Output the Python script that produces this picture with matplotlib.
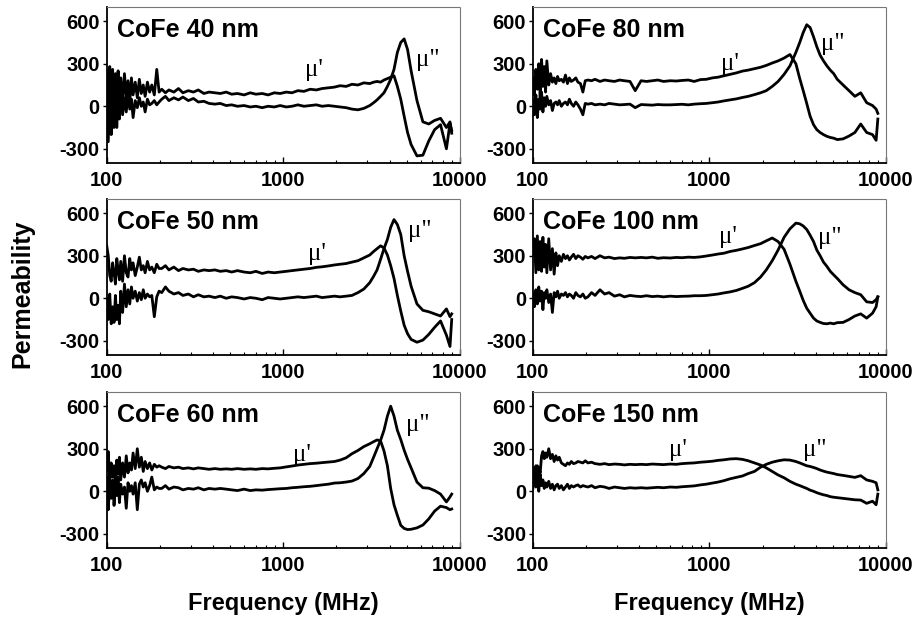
import numpy as np
import matplotlib
matplotlib.use("Agg")
import matplotlib.pyplot as plt

plt.rcParams['font.family'] = ['Liberation Sans', 'DejaVu Sans']

# measurement frequencies (MHz), shared by all panels
freq = [100, 102, 104, 106, 108, 110, 112, 114, 116, 118,
        120, 123, 126, 129, 132, 135, 138, 141, 145, 149,
        153, 157, 161, 165, 170, 175, 180, 186, 192, 198,
        205, 215, 225, 240, 255, 270, 290, 310, 330, 355, 380,
        410, 440, 475, 510, 550, 600, 650, 700, 760, 820, 890, 960,
        1040, 1120, 1210, 1310, 1420, 1540, 1660, 1800, 1950, 2100,
        2270, 2450, 2650, 2860, 3090, 3250, 3400, 3560, 3720, 3890,
        4060, 4240, 4430, 4630, 4840, 5060, 5300, 5720, 6180, 6670,
        7200, 7780, 8400, 8800, 9000]

# CoFe 40 nm
mu1_40 = [250, -50, 280, 0, 260, -150, 230, 20, 250, -80,
          200, 40, 230, 60, 180, 30, 200, 80, 170, 60,
          190, 90, 150, 70, 170, 100, 150, 80, 260, 100,
          120, 95, 115, 100, 125, 95, 110, 100, 115, 90, 100,
          95, 90, 100, 85, 90, 80, 95, 85, 90, 80, 95, 90,
          100, 95, 110, 105, 120, 115, 125, 130, 135, 145,
          140, 155, 150, 165, 160, 170, 175, 170, 185, 195,
          205, 215, 140, 50, -70, -185, -270, -350, -345, -245,
          -165, -130, -300, -120, -170]
mu2_40 = [100, -250, 150, -200, 50, -100, 120, -150, 80, -90,
          110, -60, 60, -40, 90, -20, 50, -80, 40, -10,
          60, 0, 30, -40, 50, 10, 20, 40, 10, 30,
          50, 70, 40, 60, 45, 65, 40, 55, 30, 35, 20,
          15, 20, 5, 10, 0, 5, -5, 0, -10, 0, -5, 5,
          -5, 0, 10, 0, 5, 10, 0, 5, 0, -5,
          -10, -20, -25, -15, 5, 25, 45, 70, 95, 140,
          190, 260, 380, 450, 475, 400, 250, 40, -110, -125,
          -100, -85, -150, -110, -190]

# CoFe 80 nm
mu1_80 = [200, 80, 260, 120, 300, 60, 330, 140, 280, 100,
          320, 150, 230, 170, 200, 160, 210, 180, 190, 170,
          220, 160, 200, 175, 185, 200, 170, 160, 100, 180,
          185, 180, 190, 175, 185, 180, 175, 185, 180, 175, 110,
          180, 175, 180, 185, 175, 180, 178, 182, 185, 175, 188, 190,
          200, 205, 215, 225, 235, 248, 255, 265, 275, 288,
          305, 320, 340, 365, 300, 195, 110, 20, -70, -130,
          -165, -185, -200, -212, -220, -225, -235, -230, -210, -185,
          -125, -185, -200, -240, -90]
mu2_80 = [40, -60, 80, -80, 50, -20, 100, -40, 60, 0,
          70, 10, 40, -30, 20, 30, 10, 40, 0, 20,
          30, 10, 50, 20, 0, 30, 10, -20, -60, 20,
          15, 20, 10, 15, 10, 20, 15, 10, 12, 15, -10,
          12, 10, 8, 12, 10, 10, 12, 14, 10, 15, 18, 20,
          25, 30, 38, 45, 52, 62, 70, 82, 95, 110,
          140, 175, 225, 285, 380, 450, 520, 575, 555, 490,
          420, 360, 320, 285, 255, 230, 190, 150, 110, 70,
          95, 25, 5, -20, -50]

# CoFe 50 nm
mu1_50 = [370, 300, 160, 120, 250, 180, 100, 280, 200, 130,
          260, 120, 300, 180, 150, 280, 200, 250, 160, 220,
          290, 200, 230, 180, 260, 200, 220, 180, 240, 210,
          210, 230, 200, 220, 195, 210, 200, 205, 190, 200, 195,
          200, 190, 195, 185, 195, 185, 180, 190, 175, 185, 180, 185,
          190, 195, 200, 205, 210, 218, 222, 228, 235, 240,
          245, 255, 265, 285, 305, 330, 350, 370, 355, 305,
          230, 140, 20, -90, -190, -250, -290, -310, -295, -255,
          -205, -160, -260, -340, -150]
mu2_50 = [0, -150, 30, -180, -60, -170, 20, -150, -50, -180,
          50, -100, 100, -60, 60, -40, 80, 0, 50, -20,
          40, -10, 60, 0, 30, 10, 20, -130, 10, 50,
          40, 80, 50, 30, 40, 20, 30, 10, 25, 10, 15,
          5, 15, 0, 10, 5, -5, 5, 0, -10, 5, 0, -5,
          0, 5, 10, 5, 10, 15, 5, 10, 15, 10,
          15, 20, 40, 65, 110, 155, 200, 275, 350, 415,
          500, 555, 520, 450, 300, 190, 85, -40, -85, -95,
          -110, -125, -75, -130, -110]

# CoFe 100 nm
mu1_100 = [300, 420, 180, 440, 200, 400, 190, 430, 220, 380,
           180, 420, 200, 350, 170, 320, 230, 300, 260, 310,
           280, 300, 270, 290, 310, 280, 300, 290, 275, 295,
           285, 295, 280, 300, 285, 290, 280, 285, 282, 288, 285,
           288, 285, 290, 282, 286, 284, 288, 286, 290, 288, 292, 298,
           305, 312, 318, 330, 338, 348, 358, 372, 385, 405,
           425, 400, 345, 240, 120, 50, -15, -70, -105, -140,
           -160, -170, -178, -180, -175, -180, -172, -170, -150, -125,
           -110, -140, -105, -60, 10]
mu2_100 = [30, -60, 60, -40, 80, -20, 50, -80, 40, 0,
           60, -30, 30, -100, 40, 10, 50, 0, 30, 20,
           40, 10, 30, 20, 0, 40, 20, 10, 30, 0,
           10, 40, 20, 60, 30, 40, 15, 25, 10, 20, 15,
           12, 18, 12, 15, 10, 15, 12, 14, 15, 18, 18, 20,
           25, 30, 38, 45, 55, 70, 85, 110, 150, 200,
           265, 340, 430, 490, 530, 525, 510, 485, 445, 400,
           340, 300, 255, 225, 190, 165, 140, 95, 60, 40,
           25, -25, -30, -10, 10]

# CoFe 60 nm
mu1_60 = [150, 280, 60, 200, 100, 180, 50, 220, 120, 240,
          80, 200, 100, 250, 130, 200, 150, 270, 160, 300,
          170, 240, 140, 210, 160, 200, 150, 190, 170, 180,
          170, 160, 175, 165, 170, 160, 165, 158, 165, 160, 155,
          160, 155, 158, 155, 160, 155, 158, 155, 160, 158, 162, 165,
          172, 178, 185, 190, 195, 198, 202, 206, 210, 220,
          236, 265, 288, 315, 335, 350, 362, 355, 285, 180,
          20, -95, -170, -240, -262, -270, -268, -258, -238, -195,
          -140, -105, -115, -130, -125]
mu2_60 = [100, -130, 60, -50, 80, -100, 40, -30, 100, -80,
          50, -20, 30, -120, 60, 0, 40, -20, 60, -130,
          50, 80, 30, 60, 0, 40, 100, 10, 30, 20,
          20, 40, 15, 30, 25, 10, 20, 15, 25, 10, 20,
          15, 20, 15, 10, 5, 15, 5, 10, 8, 12, 15, 18,
          20, 25, 28, 32, 35, 40, 45, 50, 58, 60,
          65, 72, 90, 125, 175, 240, 300, 360, 430, 530,
          600, 530, 430, 365, 290, 225, 165, 65, 25, 22,
          5, -20, -75, -40, -20]

# CoFe 150 nm
mu1_150 = [160, 120, 180, 90, 170, 130, 250, 280, 230, 270,
           240, 300, 230, 260, 210, 250, 220, 240, 200, 190,
           180, 200, 190, 210, 195, 200, 210, 205, 200, 215,
           200, 205, 195, 190, 195, 188, 192, 190, 186, 190, 188,
           190, 188, 192, 190, 188, 192, 190, 195, 198, 200, 205, 208,
           212, 218, 222, 228, 230, 225, 215, 200, 185, 165,
           140, 115, 95, 70, 50, 40, 30, 20, 8, 0,
           -10, -18, -25, -30, -38, -42, -45, -50, -55, -60,
           -62, -85, -70, -95, -20]
mu2_150 = [20, 150, 30, 180, 0, 120, 40, 80, 20, 60,
           30, 70, 20, 50, 10, 40, 50, 20, 40, 10,
           30, 50, 20, 40, 30, 40, 45, 30, 40, 35,
           30, 40, 25, 35, 30, 20, 30, 25, 20, 25, 22,
           25, 22, 25, 28, 25, 30, 28, 32, 35, 38, 45, 50,
           58, 65, 75, 88, 98, 108, 125, 140, 170, 190,
           205, 215, 222, 220, 210, 200, 190, 180, 175, 168,
           160, 150, 142, 135, 130, 125, 118, 112, 105, 98,
           110, 80, 70, 60, 10]

titles = ["CoFe 40 nm", "CoFe 80 nm", "CoFe 50 nm",
          "CoFe 100 nm", "CoFe 60 nm", "CoFe 150 nm"]
mu1_list = [mu1_40, mu1_80, mu1_50, mu1_100, mu1_60, mu1_150]
mu2_list = [mu2_40, mu2_80, mu2_50, mu2_100, mu2_60, mu2_150]
# where the mu' and mu'' labels sit (freq, value)
lab1_pos = [(1490, 256), (1300, 299), (1560, 311), (1270, 434), (1280, 258), (660, 289)]
lab2_pos = [(6580, 326), (5010, 439), (5900, 475), (4810, 422), (5770, 469), (3950, 289)]

fig = plt.figure(figsize=(9.17, 6.19), dpi=100)

lefts = [0.1164, 0.5811]
bottoms = [0.7367, 0.4265, 0.1147]
w = 0.385
h = 0.252

for i in range(6):
    r, c = divmod(i, 2)
    ax = fig.add_axes([lefts[c], bottoms[r], w, h])
    ax.plot(freq, mu1_list[i], color='black', lw=2.0)
    ax.plot(freq, mu2_list[i], color='black', lw=2.0)
    ax.set_xscale('log')
    ax.set_xlim(100, 10000)
    ax.set_ylim(-400, 700)
    ax.set_xticks([100, 1000, 10000])
    ax.set_xticklabels(['100', '1000', '10000'])
    ax.set_yticks([-300, 0, 300, 600])
    ax.set_yticklabels(['-300', '0', '300', '600'])
    ax.tick_params(axis='x', which='major', direction='in', length=4, width=1,
                   pad=6, labelsize=14.5)
    ax.tick_params(axis='x', which='minor', direction='in', length=2, width=0.8)
    ax.tick_params(axis='y', which='major', direction='out', length=3, width=1,
                   pad=2, labelsize=14.5)
    for lab in ax.get_xticklabels() + ax.get_yticklabels():
        lab.set_fontweight('bold')
    ax.spines['left'].set_linewidth(1.3)
    ax.spines['bottom'].set_linewidth(1.3)
    for s in ['top', 'right']:
        ax.spines[s].set_linewidth(0.8)
        ax.spines[s].set_color('#777777')
        ax.spines[s].set_linestyle((0, (2, 1)))
    ax.text(0.03, 0.93, titles[i], transform=ax.transAxes, ha='left', va='top',
            fontsize=18, fontweight='bold')
    ax.text(lab1_pos[i][0], lab1_pos[i][1], "μ'", ha='center', va='center',
            fontsize=18, family=['Liberation Serif', 'DejaVu Serif'])
    ax.text(lab2_pos[i][0], lab2_pos[i][1], 'μ"', ha='center', va='center',
            fontsize=18, family=['Liberation Serif', 'DejaVu Serif'])
    if r == 2:
        ax.set_xlabel('Frequency (MHz)', fontsize=17, fontweight='bold', labelpad=12)

fig.text(0.024, 0.525, 'Permeability', rotation=90, ha='center', va='center',
         fontsize=18, fontweight='bold')

fig.savefig('out.png', dpi=100)
